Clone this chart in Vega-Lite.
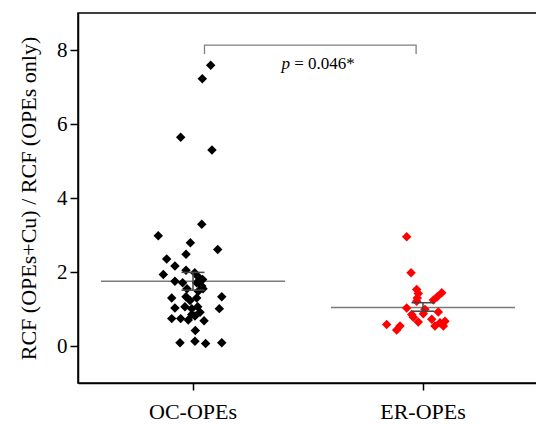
{
  "$schema": "https://vega.github.io/schema/vega-lite/v6.json",
  "width": 460,
  "height": 370,
  "autosize": "none",
  "padding": {"left": 78, "top": 13, "right": 0, "bottom": 41},
  "background": "white",
  "config": {
    "font": "Liberation Serif",
    "view": {"stroke": "black", "strokeWidth": 1.5},
    "axis": {"domainColor": "black", "domainWidth": 1.5, "tickColor": "black", "tickWidth": 1.5, "labelColor": "black", "titleColor": "black", "grid": false, "labelFont": "Liberation Serif", "titleFont": "Liberation Serif", "titleFontWeight": "normal"}
  },
  "datasets": {
    "points": [
      {"group": "OC-OPEs", "j": 0.154, "v": 7.59},
      {"group": "OC-OPEs", "j": 0.081, "v": 7.22},
      {"group": "OC-OPEs", "j": -0.107, "v": 5.64},
      {"group": "OC-OPEs", "j": 0.165, "v": 5.30},
      {"group": "OC-OPEs", "j": 0.076, "v": 3.29},
      {"group": "OC-OPEs", "j": -0.302, "v": 2.98},
      {"group": "OC-OPEs", "j": -0.023, "v": 2.79},
      {"group": "OC-OPEs", "j": 0.215, "v": 2.61},
      {"group": "OC-OPEs", "j": -0.061, "v": 2.48},
      {"group": "OC-OPEs", "j": -0.229, "v": 2.35},
      {"group": "OC-OPEs", "j": -0.157, "v": 2.16},
      {"group": "OC-OPEs", "j": -0.061, "v": 2.05},
      {"group": "OC-OPEs", "j": 0.015, "v": 1.98},
      {"group": "OC-OPEs", "j": -0.258, "v": 1.93},
      {"group": "OC-OPEs", "j": -0.157, "v": 1.75},
      {"group": "OC-OPEs", "j": -0.09, "v": 1.71},
      {"group": "OC-OPEs", "j": 0.084, "v": 1.80},
      {"group": "OC-OPEs", "j": 0.032, "v": 1.71},
      {"group": "OC-OPEs", "j": 0.076, "v": 1.62},
      {"group": "OC-OPEs", "j": 0.046, "v": 1.48},
      {"group": "OC-OPEs", "j": -0.185, "v": 1.30},
      {"group": "OC-OPEs", "j": -0.061, "v": 1.33},
      {"group": "OC-OPEs", "j": 0.032, "v": 1.30},
      {"group": "OC-OPEs", "j": 0.25, "v": 1.33},
      {"group": "OC-OPEs", "j": -0.157, "v": 1.03},
      {"group": "OC-OPEs", "j": -0.07, "v": 1.06},
      {"group": "OC-OPEs", "j": -0.011, "v": 1.01},
      {"group": "OC-OPEs", "j": 0.041, "v": 1.06},
      {"group": "OC-OPEs", "j": 0.229, "v": 1.01},
      {"group": "OC-OPEs", "j": -0.185, "v": 0.74},
      {"group": "OC-OPEs", "j": -0.107, "v": 0.74},
      {"group": "OC-OPEs", "j": -0.041, "v": 0.70},
      {"group": "OC-OPEs", "j": 0.017, "v": 0.81},
      {"group": "OC-OPEs", "j": -0.011, "v": 0.85},
      {"group": "OC-OPEs", "j": 0.096, "v": 0.68},
      {"group": "OC-OPEs", "j": 0.02, "v": 0.42},
      {"group": "OC-OPEs", "j": -0.113, "v": 0.09},
      {"group": "OC-OPEs", "j": 0.017, "v": 0.13},
      {"group": "OC-OPEs", "j": 0.11, "v": 0.07},
      {"group": "OC-OPEs", "j": 0.25, "v": 0.09},
      {"group": "OC-OPEs", "j": 0.043, "v": 1.88},
      {"group": "OC-OPEs", "j": 0.087, "v": 1.55},
      {"group": "OC-OPEs", "j": -0.026, "v": 1.23},
      {"group": "OC-OPEs", "j": 0.061, "v": 0.91},
      {"group": "OC-OPEs", "j": -0.052, "v": 1.55},
      {"group": "ER-OPEs", "j": -0.142, "v": 2.95},
      {"group": "ER-OPEs", "j": -0.104, "v": 1.98},
      {"group": "ER-OPEs", "j": -0.055, "v": 1.53},
      {"group": "ER-OPEs", "j": -0.041, "v": 1.42},
      {"group": "ER-OPEs", "j": -0.05, "v": 1.30},
      {"group": "ER-OPEs", "j": 0.163, "v": 1.44},
      {"group": "ER-OPEs", "j": 0.124, "v": 1.33},
      {"group": "ER-OPEs", "j": 0.09, "v": 1.24},
      {"group": "ER-OPEs", "j": -0.055, "v": 1.21},
      {"group": "ER-OPEs", "j": -0.142, "v": 1.03},
      {"group": "ER-OPEs", "j": 0.133, "v": 0.92},
      {"group": "ER-OPEs", "j": -0.098, "v": 0.85},
      {"group": "ER-OPEs", "j": 0.003, "v": 0.87},
      {"group": "ER-OPEs", "j": -0.084, "v": 0.78},
      {"group": "ER-OPEs", "j": 0.076, "v": 0.72},
      {"group": "ER-OPEs", "j": -0.041, "v": 0.65},
      {"group": "ER-OPEs", "j": -0.316, "v": 0.58},
      {"group": "ER-OPEs", "j": -0.2, "v": 0.54},
      {"group": "ER-OPEs", "j": -0.229, "v": 0.43},
      {"group": "ER-OPEs", "j": 0.104, "v": 0.54},
      {"group": "ER-OPEs", "j": 0.177, "v": 0.54},
      {"group": "ER-OPEs", "j": 0.148, "v": 0.63},
      {"group": "ER-OPEs", "j": 0.017, "v": 0.99},
      {"group": "ER-OPEs", "j": 0.191, "v": 0.67}
    ],
    "lines": [
      {"kind": "mean", "key": "mOC", "group": "OC-OPEs", "j": -0.8, "v": 1.75, "o": 1},
      {"kind": "mean", "key": "mOC", "group": "OC-OPEs", "j": 0.8, "v": 1.75, "o": 2},
      {"kind": "mean", "key": "mER", "group": "ER-OPEs", "j": -0.8, "v": 1.04, "o": 1},
      {"kind": "mean", "key": "mER", "group": "ER-OPEs", "j": 0.8, "v": 1.04, "o": 2},
      {"kind": "err", "key": "eOCt", "group": "OC-OPEs", "j": -0.1, "v": 1.99, "o": 1},
      {"kind": "err", "key": "eOCt", "group": "OC-OPEs", "j": 0.1, "v": 1.99, "o": 2},
      {"kind": "err", "key": "eOCb", "group": "OC-OPEs", "j": -0.1, "v": 1.51, "o": 1},
      {"kind": "err", "key": "eOCb", "group": "OC-OPEs", "j": 0.1, "v": 1.51, "o": 2},
      {"kind": "err", "key": "eOCv", "group": "OC-OPEs", "j": 0, "v": 1.51, "o": 1},
      {"kind": "err", "key": "eOCv", "group": "OC-OPEs", "j": 0, "v": 1.99, "o": 2},
      {"kind": "err", "key": "eERt", "group": "ER-OPEs", "j": -0.1, "v": 1.17, "o": 1},
      {"kind": "err", "key": "eERt", "group": "ER-OPEs", "j": 0.1, "v": 1.17, "o": 2},
      {"kind": "err", "key": "eERb", "group": "ER-OPEs", "j": -0.1, "v": 0.94, "o": 1},
      {"kind": "err", "key": "eERb", "group": "ER-OPEs", "j": 0.1, "v": 0.94, "o": 2},
      {"kind": "err", "key": "eERv", "group": "ER-OPEs", "j": 0, "v": 0.94, "o": 1},
      {"kind": "err", "key": "eERv", "group": "ER-OPEs", "j": 0, "v": 1.17, "o": 2},
      {"kind": "bracket", "key": "br", "group": "OC-OPEs", "j": 0.1, "v": 7.89, "o": 1},
      {"kind": "bracket", "key": "br", "group": "OC-OPEs", "j": 0.1, "v": 8.13, "o": 2},
      {"kind": "bracket", "key": "br", "group": "ER-OPEs", "j": -0.06, "v": 8.13, "o": 3},
      {"kind": "bracket", "key": "br", "group": "ER-OPEs", "j": -0.06, "v": 7.89, "o": 4}
    ],
    "labels": [
      {"group": "OC-OPEs", "j": 0.77, "v": 7.5, "label": "p", "style": "italic"},
      {"group": "OC-OPEs", "j": 0.88, "v": 7.5, "label": "= 0.046*", "style": "normal"}
    ]
  },
  "encoding": {
    "x": {
      "field": "group", "type": "nominal",
      "sort": ["OC-OPEs", "ER-OPEs"],
      "scale": {"domain": ["OC-OPEs", "ER-OPEs"], "paddingInner": 0, "paddingOuter": 0},
      "axis": {"title": null, "labelAngle": 0, "labelFontSize": 22, "tickSize": 7, "labelPadding": 11, "domainWidth": 1.5}
    },
    "xOffset": {"field": "j", "type": "quantitative", "scale": {"domain": [-1, 1], "nice": false, "zero": false}},
    "y": {
      "field": "v", "type": "quantitative",
      "scale": {"domain": [-1, 9], "nice": false, "zero": false},
      "axis": {"values": [0, 2, 4, 6, 8], "title": "RCF (OPEs+Cu) / RCF (OPEs only)", "titleFontSize": 22, "labelFontSize": 21, "tickSize": 8, "labelPadding": 3, "titlePadding": 16}
    }
  },
  "layer": [
    {
      "data": {"name": "lines"},
      "transform": [{"filter": "datum.kind === 'mean'"}],
      "mark": {"type": "line", "color": "#7a7a7a", "strokeWidth": 1.6},
      "encoding": {"detail": {"field": "key"}, "order": {"field": "o"}}
    },
    {
      "data": {"name": "points"},
      "mark": {"type": "point", "shape": "diamond", "filled": true, "size": 90, "opacity": 1},
      "encoding": {
        "color": {"field": "group", "type": "nominal", "scale": {"domain": ["OC-OPEs", "ER-OPEs"], "range": ["#000000", "#ff0000"]}, "legend": null}
      }
    },
    {
      "data": {"name": "lines"},
      "transform": [{"filter": "datum.kind === 'err'"}],
      "mark": {"type": "line", "color": "#444444", "strokeWidth": 1.5},
      "encoding": {"detail": {"field": "key"}, "order": {"field": "o"}}
    },
    {
      "data": {"name": "lines"},
      "transform": [{"filter": "datum.kind === 'bracket'"}],
      "mark": {"type": "line", "color": "#808080", "strokeWidth": 1.3},
      "encoding": {"detail": {"field": "key"}, "order": {"field": "o"}}
    },
    {
      "data": {"name": "labels"},
      "transform": [{"filter": "datum.style === 'italic'"}],
      "mark": {"type": "text", "align": "left", "baseline": "alphabetic", "fontSize": 17, "fontStyle": "italic", "color": "black", "font": "Liberation Serif"},
      "encoding": {"text": {"field": "label"}}
    },
    {
      "data": {"name": "labels"},
      "transform": [{"filter": "datum.style === 'normal'"}],
      "mark": {"type": "text", "align": "left", "baseline": "alphabetic", "fontSize": 17, "color": "black", "font": "Liberation Serif"},
      "encoding": {"text": {"field": "label"}}
    }
  ]
}
